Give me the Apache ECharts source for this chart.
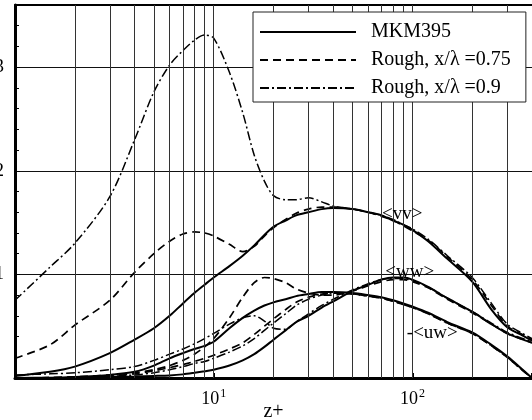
<!DOCTYPE html>
<html><head><meta charset="utf-8">
<script src="https://cdn.jsdelivr.net/npm/echarts@6/dist/echarts.min.js"></script>
<style>html,body{margin:0;padding:0;background:#fff}#c{width:532px;height:420px}</style>
</head><body><div id="c"></div>
<script>
const zPlus = [1,1.5,2,3,4,5,6,7,8,9,10,12,14,16,18,20,23,26,30,35,40,50,60,70,80,90,100,120,150,200,250,300,350,400];
const vvMKM = [0.02,0.06,0.11,0.24,0.37,0.48,0.60,0.72,0.82,0.90,0.97,1.08,1.18,1.28,1.38,1.46,1.52,1.57,1.60,1.63,1.64,1.63,1.60,1.57,1.52,1.48,1.43,1.32,1.15,0.93,0.66,0.49,0.42,0.36];
const vvR75 = [0.19,0.32,0.51,0.75,1.02,1.20,1.32,1.39,1.41,1.40,1.37,1.29,1.22,1.27,1.37,1.45,1.53,1.59,1.63,1.65,1.65,1.63,1.60,1.56,1.52,1.47,1.42,1.33,1.17,0.95,0.70,0.50,0.43,0.37];
const vvR90 = [0.75,1.07,1.30,1.75,2.30,2.76,3.02,3.16,3.26,3.31,3.28,2.95,2.56,2.15,1.90,1.76,1.72,1.72,1.74,1.70,1.66,1.63,1.60,1.57,1.53,1.48,1.44,1.34,1.18,0.97,0.72,0.52,0.44,0.38];
const wwMKM = [0,0,0.003,0.01,0.015,0.02,0.025,0.035,0.05,0.065,0.08,0.12,0.17,0.23,0.30,0.37,0.46,0.54,0.60,0.68,0.74,0.84,0.90,0.95,0.97,0.97,0.95,0.88,0.77,0.64,0.52,0.43,0.38,0.34];
const wwR75 = [0,0.003,0.01,0.03,0.05,0.08,0.12,0.17,0.23,0.30,0.38,0.58,0.78,0.92,0.97,0.96,0.92,0.86,0.82,0.80,0.80,0.84,0.89,0.93,0.95,0.95,0.93,0.87,0.76,0.63,0.52,0.43,0.38,0.34];
const wwR90 = [0.03,0.04,0.05,0.08,0.11,0.17,0.23,0.28,0.33,0.38,0.43,0.52,0.58,0.60,0.55,0.48,0.47,0.54,0.62,0.70,0.76,0.85,0.91,0.95,0.96,0.96,0.94,0.88,0.77,0.64,0.53,0.44,0.39,0.35];
const uwMKM = [0,0.003,0.01,0.03,0.06,0.12,0.19,0.24,0.28,0.31,0.35,0.48,0.58,0.65,0.70,0.73,0.76,0.79,0.81,0.83,0.83,0.82,0.80,0.78,0.75,0.72,0.69,0.63,0.54,0.44,0.32,0.21,0.10,0.0];
const uwR75 = [0,0.003,0.01,0.02,0.04,0.07,0.10,0.13,0.16,0.19,0.22,0.28,0.34,0.42,0.50,0.57,0.66,0.73,0.78,0.81,0.82,0.81,0.79,0.77,0.74,0.71,0.68,0.62,0.53,0.43,0.31,0.20,0.09,0.0];
const uwR90 = [0,0.002,0.005,0.015,0.03,0.05,0.08,0.11,0.14,0.16,0.19,0.25,0.31,0.38,0.46,0.53,0.62,0.70,0.76,0.80,0.82,0.81,0.79,0.77,0.74,0.71,0.68,0.62,0.53,0.43,0.31,0.20,0.09,0.0];
const seriesNames = ['MKM395', 'Rough, x/λ =0.75', 'Rough, x/λ =0.9'];
const gridZ = [2,3,4,5,6,7,8,9,10,20,30,40,50,60,70,80,90,100,200,300];
const curveLabels = [
  {name:'<vv>', z:89, y:1.58},
  {name:'<ww>', z:97, y:1.02},
  {name:'-<uw>', z:126, y:0.43}
];
const xMin = 1, xMax = 400, yMin = 0, yMax = 3.6;

const serif = 'Liberation Serif';
const styles = [
  {type:'solid', width:2},
  {type:[8,5], width:1.7},
  {type:[9,3,2,3], width:1.5}
];
const groups = [
  [vvMKM, vvR75, vvR90],
  [wwMKM, wwR75, wwR90],
  [uwMKM, uwR75, uwR90]
];
const series = [];
groups.forEach((g, gi) => {
  g.forEach((arr, si) => {
    const s = {
      type:'line', name: seriesNames[si], xAxisIndex:0, yAxisIndex:0,
      data: zPlus.map((z,i)=>[z, arr[i]]),
      symbol:'none', smooth:0.3,
      lineStyle:{color:'#000', type: styles[si].type, width: styles[si].width},
      itemStyle:{color:'rgba(0,0,0,0)', opacity:0},
      z: 3
    };
    if (si === 0) {
      const lab = curveLabels[gi];
      s.markPoint = {
        symbol:'rect', symbolSize:0, silent:true,
        itemStyle:{color:'rgba(0,0,0,0)'},
        label:{show:true, position:[0,0], align:'center', verticalAlign:'middle',
               formatter:'{b}', color:'#000', fontFamily:serif, fontSize:19},
        data:[{name: lab.name, coord:[lab.z, lab.y]}]
      };
    }
    series.push(s);
  });
});
// vertical grid lines
series.push({
  type:'line', data:[], symbol:'none', silent:true, z:1,
  markLine:{
    silent:true, symbol:['none','none'], label:{show:false},
    lineStyle:{color:'#333', type:'solid', width:1},
    data: gridZ.map(v=>({xAxis:v}))
  }
});

const chart = echarts.init(document.getElementById('c'), null, {renderer:'canvas'});
chart.setOption({
  animation:false,
  backgroundColor:'#fff',
  grid:{left:15, right:0, top:5, bottom:42, containLabel:false, outerBoundsMode:'none'},
  legend:{
    data: seriesNames, orient:'vertical', left:253, top:12,
    itemWidth:96, itemHeight:14, itemGap:8,
    padding:[10,15,4,6],
    backgroundColor:'#fff', borderColor:'#222', borderWidth:1, borderRadius:0,
    itemStyle:{color:'rgba(0,0,0,0)', opacity:0, borderWidth:0},
    textStyle:{fontFamily:serif, fontSize:20, color:'#000', padding:[0,0,0,10]},
    selectedMode:false, z:10
  },
  xAxis:[{
    type:'log', min:xMin, max:xMax, logBase:10,
    name:'z+', nameLocation:'middle', nameGap:24, nameMoveOverlap:false,
    nameTextStyle:{fontFamily:serif, fontSize:20, color:'#000'},
    axisLine:{show:true, lineStyle:{color:'#000', width:3}},
    axisTick:{show:true, inside:true, length:5, lineStyle:{color:'#000', width:2}},
    splitLine:{show:false},
    axisLabel:{
      margin:10,
      formatter:function(v){
        if (Math.abs(v-10)<1e-6) return '{b|10}{s|1}';
        if (Math.abs(v-100)<1e-6) return '{b|10}{s|2}';
        return '';
      },
      rich:{
        b:{fontFamily:serif, fontSize:18, color:'#000', verticalAlign:'bottom'},
        s:{fontFamily:serif, fontSize:12, color:'#000', verticalAlign:'bottom', padding:[0,0,8,1]}
      }
    }
  },{
    type:'log', min:xMin, max:xMax, position:'top',
    axisLine:{show:true, lineStyle:{color:'#000', width:2}},
    axisTick:{show:false}, axisLabel:{show:false}, splitLine:{show:false}
  }],
  yAxis:{
    type:'value', min:yMin, max:yMax, interval:1,
    axisLine:{show:true, lineStyle:{color:'#000', width:3}},
    axisTick:{show:true, inside:true, length:5, lineStyle:{color:'#000'}},
    minorTick:{show:true, splitNumber:5, length:4, lineStyle:{color:'#000'}},
    splitLine:{show:true, showMinLine:false, showMaxLine:false, lineStyle:{color:'#111', width:1}},
    axisLabel:{
      margin:11, showMinLabel:false, showMaxLabel:false,
      fontFamily:serif, fontSize:19, color:'#000',
      formatter:function(v){ return Number.isInteger(v) && v>0 ? String(v) : ''; }
    }
  },
  series: series
});
</script></body></html>
